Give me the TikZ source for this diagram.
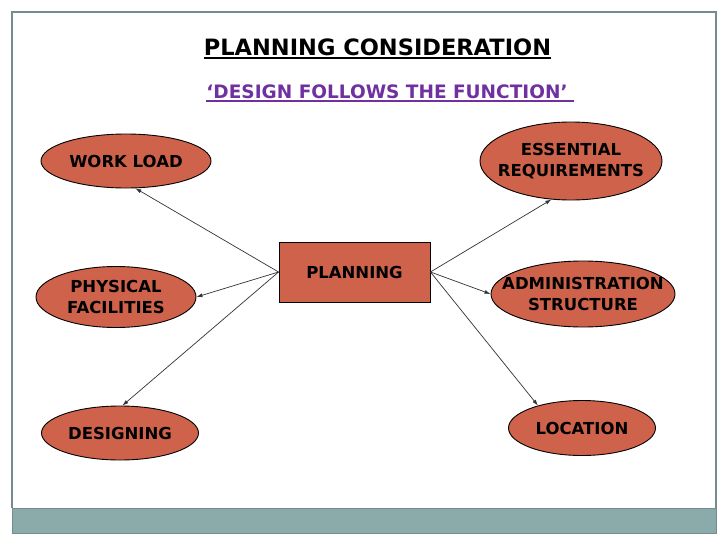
\documentclass[tikz,border=0pt]{standalone}
\usepackage{fontspec}
\setmainfont{DejaVu Sans}
\usetikzlibrary{shapes.geometric,arrows.meta}
\definecolor{boxfill}{RGB}{207,98,74}
\definecolor{purp}{RGB}{112,48,160}
\definecolor{framec}{RGB}{118,140,140}
\definecolor{barc}{RGB}{139,170,170}
\begin{document}
\begin{tikzpicture}[x=1pt,y=-1pt,
 oval/.style={ellipse,draw=black,line width=0.9pt,fill=boxfill,inner sep=0pt},
 ovaltext/.style={align=center,font=\fontsize{16.5}{21}\selectfont\bfseries,inner sep=0pt},
 centerbox/.style={rectangle,draw=black,line width=0.9pt,fill=boxfill,inner sep=0pt,font=\fontsize{16.5}{21}\selectfont\bfseries},
 link/.style={draw=black!80,line width=0.7pt,-{Latex[length=6pt,width=4pt]}}]
\useasboundingbox (0,0) rectangle (728,546);
\fill[white] (0,0) rectangle (728,546);
\draw[framec, line width=1.2pt] (12,508) -- (12,12) -- (716,12) -- (716,508);
\fill[barc] (12,508) rectangle (716,533);
\draw[framec, line width=1pt] (12,508) rectangle (716,533);

\node[inner sep=0pt, anchor=base] (title) at (377.5,55) {\fontsize{22.5}{26}\selectfont\bfseries PLANNING CONSIDERATION};
\draw[line width=1.6pt] ([yshift=-3pt]title.base west) -- ([yshift=-3pt]title.base east);
\node[inner sep=0pt, anchor=base, text=purp] (sub) at (387,98) {\fontsize{18.5}{22}\selectfont\bfseries ‘DESIGN FOLLOWS THE FUNCTION’};
\draw[purp, line width=1.3pt] ([yshift=-3pt]sub.base west) -- ([yshift=-3pt,xshift=6pt]sub.base east);

\node[centerbox, minimum width=151pt, minimum height=60pt] (p) at (354.5,272) {PLANNING};

\node[oval, minimum width=170pt, minimum height=54pt, label={[ovaltext]center:WORK LOAD}] (wl) at (126,161) {};
\node[oval, minimum width=160pt, minimum height=61pt, label={[ovaltext]center:PHYSICAL\\FACILITIES}] (pf) at (116,297) {};
\node[oval, minimum width=157pt, minimum height=54pt, label={[ovaltext]center:DESIGNING}] (ds) at (120,433) {};
\node[oval, minimum width=182pt, minimum height=78pt, label={[ovaltext]center:ESSENTIAL\\REQUIREMENTS}] (er) at (571,161) {};
\node[oval, minimum width=184pt, minimum height=66pt, label={[ovaltext]center:ADMINISTRATION\\STRUCTURE}] (ad) at (583,294) {};
\node[oval, minimum width=147pt, minimum height=55pt, label={[ovaltext]center:LOCATION}] (lc) at (582,428) {};

\draw[link] (p.west) -- (wl.289);
\draw[link] (p.west) -- (pf.east);
\draw[link] (p.west) -- (ds.85);
\draw[link] (p.east) -- (er.243);
\draw[link] (p.east) -- (ad.west);
\draw[link] (p.east) -- (lc.153);
\end{tikzpicture}
\end{document}
